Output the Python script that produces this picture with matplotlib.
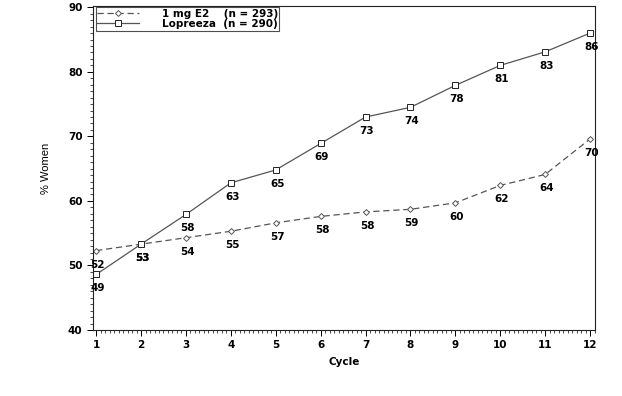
import numpy as np
import matplotlib
matplotlib.use("Agg")
import matplotlib.pyplot as plt
from matplotlib.ticker import MultipleLocator

plt.rcParams['font.family'] = ['DejaVu Sans']

cycles = np.arange(1, 13)
# plotted values and printed labels
e2_vals = [52.3, 53.3, 54.3, 55.3, 56.6, 57.6, 58.3, 58.7, 59.7, 62.4, 64.1, 69.6]
e2_labels = [52, 53, 54, 55, 57, 58, 58, 59, 60, 62, 64, 70]
lop_vals = [48.6, 53.3, 57.9, 62.8, 64.8, 68.9, 73.0, 74.5, 77.9, 81.0, 83.1, 86.0]
lop_labels = [49, 53, 58, 63, 65, 69, 73, 74, 78, 81, 83, 86]

fig = plt.figure(figsize=(6.22, 3.96), dpi=100)
ax = fig.add_axes([93/622, 1-330/396, (595-93)/622, (330-6)/396])

ax.plot(cycles, e2_vals, color='#555555', ls=(0, (5, 3)), lw=0.9,
        marker='D', ms=3, mfc='white', mec='#555555', mew=0.7,
        label='1 mg E2    (n = 293)')
ax.plot(cycles, lop_vals, color='#555555', ls='-', lw=0.9,
        marker='s', ms=5, mfc='white', mec='#222222', mew=0.7,
        label='Lopreeza  (n = 290)')

for x, y, t in zip(cycles, e2_vals, e2_labels):
    ax.annotate(str(t), (x, y), xytext=(1, -10), textcoords='offset points',
                ha='center', va='center', fontsize=7.5, fontweight='bold')
for x, y, t in zip(cycles, lop_vals, lop_labels):
    ax.annotate(str(t), (x, y), xytext=(1, -10), textcoords='offset points',
                ha='center', va='center', fontsize=7.5, fontweight='bold')

ax.set_xlim(0.93, 12.11)
ax.set_ylim(40, 90.2)
ax.set_xticks(cycles)
ax.set_yticks([40, 50, 60, 70, 80, 90])
ax.xaxis.set_minor_locator(MultipleLocator(0.1))
ax.yaxis.set_minor_locator(MultipleLocator(1))
ax.tick_params(which='major', direction='out', length=4, width=0.7,
               labelsize=7.5)
ax.tick_params(which='minor', direction='out', length=2, width=0.5)
for lab in ax.get_xticklabels() + ax.get_yticklabels():
    lab.set_fontweight('bold')
for s in ax.spines.values():
    s.set_linewidth(0.8)
    s.set_color('#222222')

ax.set_xlabel('Cycle', fontsize=7.5, fontweight='bold', labelpad=5)
ax.set_ylabel('% Women', fontsize=8, labelpad=12,
              family=['Liberation Sans Narrow', 'Liberation Sans'])

leg = ax.legend(loc='upper left', bbox_to_anchor=(0.005, 0.997),
                frameon=True, fancybox=False, edgecolor='#222222',
                handlelength=4, borderpad=0.15, labelspacing=0.05,
                handletextpad=2.2, borderaxespad=0,
                prop={'weight': 'bold', 'size': 7.5})
leg.get_frame().set_linewidth(0.8)

fig.savefig('out.png', dpi=100)
